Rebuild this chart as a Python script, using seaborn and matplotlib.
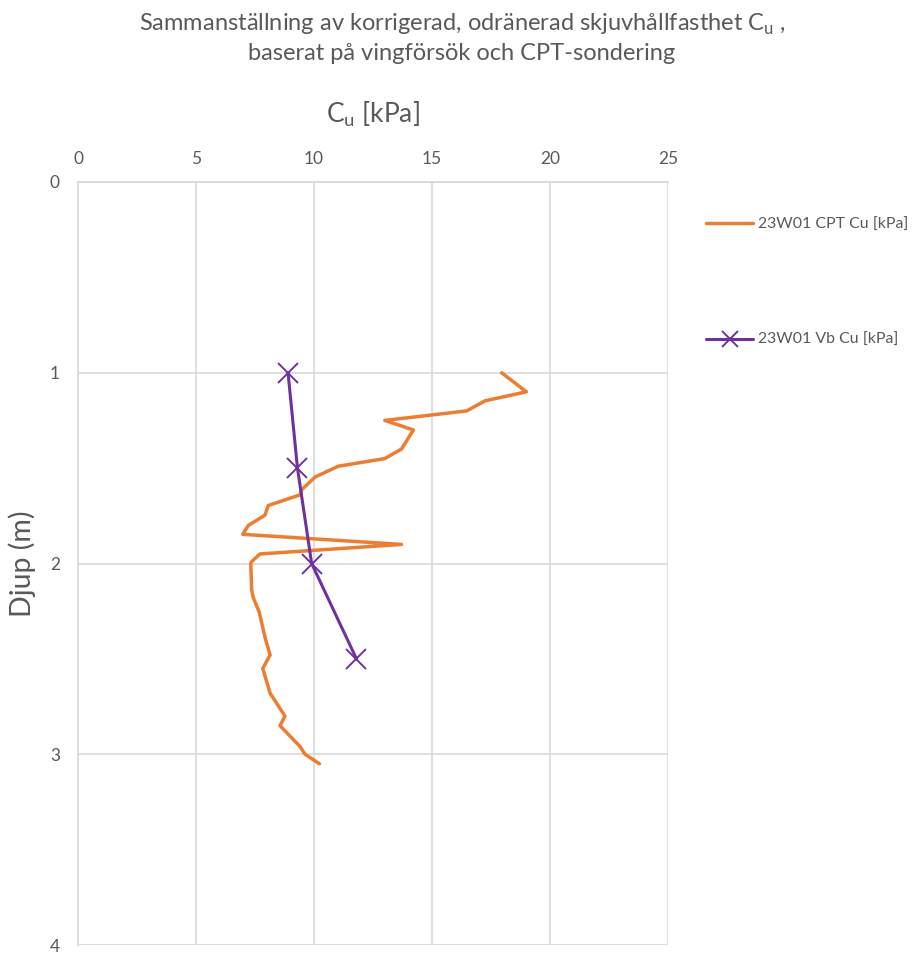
import matplotlib
matplotlib.use("Agg")
import matplotlib.pyplot as plt
import seaborn as sns
import pandas as pd

# CPT series
cpt_cu = [17.95, 19.0, 17.25, 16.47, 13.0, 14.21, 13.71, 13.0, 11.03, 10.04, 9.48, 9.41,
          8.06, 7.92, 7.22, 6.98, 13.71, 7.71, 7.36, 7.32, 7.36, 7.43, 7.68, 7.92, 8.14,
          7.83, 8.14, 8.77, 8.56, 9.41, 9.62, 10.23]
cpt_depth = [1.0, 1.10, 1.147, 1.20, 1.25, 1.30, 1.40, 1.45, 1.49, 1.547, 1.613, 1.64,
             1.696, 1.747, 1.80, 1.847, 1.90, 1.95, 1.99, 2.0, 2.14, 2.18, 2.255, 2.385, 2.48,
             2.55, 2.68, 2.80, 2.85, 2.96, 3.0, 3.05]
# Vane test series
vb_cu = [8.9, 9.3, 9.9, 11.8]
vb_depth = [1.0, 1.5, 2.0, 2.5]

x_ticks = [0, 5, 10, 15, 20, 25]
y_ticks = [0, 1, 2, 3, 4]
title = "Sammanställning av korrigerad, odränerad skjuvhållfasthet C$_\\mathregular{u}$ ,\nbaserat på vingförsök och CPT-sondering"
xlabel = "C$_\\mathregular{u}$ [kPa]"
ylabel = "Djup (m)"
cpt_label = "23W01 CPT Cu [kPa]"
vb_label = "23W01 Vb Cu [kPa]"

sns.set_theme(style="white")
plt.rcParams['font.family'] = ['Lato', 'DejaVu Sans']
gray = "#595959"

cpt_df = pd.DataFrame({"cu": cpt_cu, "depth": cpt_depth})
vb_df = pd.DataFrame({"cu": vb_cu, "depth": vb_depth})

fig = plt.figure(figsize=(9.24, 9.55), dpi=100)
ax = fig.add_axes([78/924, 10/955, (668-78)/924, (945-182)/955])

sns.lineplot(data=cpt_df, x="cu", y="depth", sort=False, estimator=None, ax=ax,
             color="#ED7D31", linewidth=2.5, label=cpt_label)
sns.lineplot(data=vb_df, x="cu", y="depth", sort=False, estimator=None, ax=ax,
             color="#7030A0", linewidth=2.2, marker="x", markersize=15,
             markeredgewidth=1.4, markeredgecolor="#7030A0", label=vb_label)

ax.set_xlim(0, 25)
ax.set_ylim(4, 0)
ax.set_xticks(x_ticks)
ax.set_yticks(y_ticks)
ax.xaxis.tick_top()
ax.xaxis.set_label_position("top")
ax.grid(True, color="#D9D9D9", linewidth=1.2)
ax.tick_params(axis="x", length=0, labelsize=12.5, labelcolor=gray, pad=11)
ax.tick_params(axis="y", length=0, labelsize=12.5, labelcolor=gray, pad=13)
for s in ax.spines.values():
    s.set_visible(False)
ax.spines["left"].set_visible(True)
ax.spines["left"].set_color("#D9D9D9")
ax.spines["top"].set_visible(True)
ax.spines["top"].set_color("#D9D9D9")

ax.set_xlabel(xlabel, fontsize=19, color=gray, labelpad=20)
ax.set_ylabel(ylabel, fontsize=20.5, color=gray, labelpad=10)

fig.suptitle(title, fontsize=17, color=gray, y=0.988, linespacing=1.4)

ax.legend(loc="upper left", bbox_to_anchor=(1.04, 0.972), frameon=False,
          fontsize=11.4, labelspacing=6.4, handlelength=3.0, handletextpad=0.3,
          labelcolor=gray, markerscale=0.75)
fig.savefig("out.png", dpi=100)
